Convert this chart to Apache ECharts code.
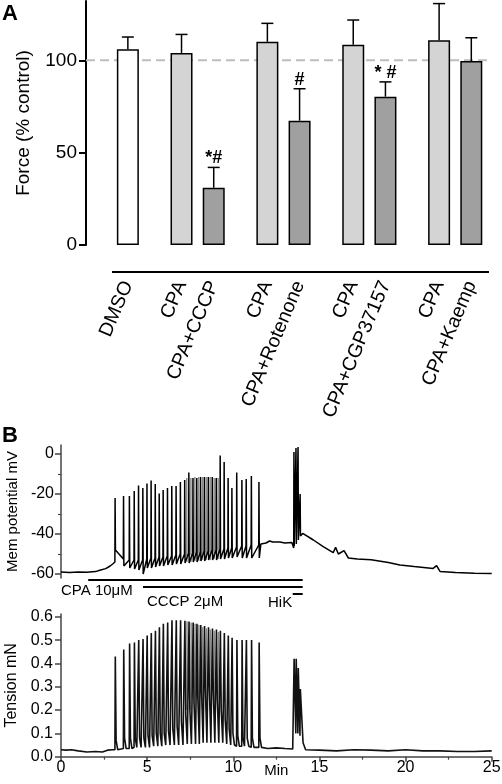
<!DOCTYPE html>
<html><head><meta charset="utf-8">
<script src="https://cdn.jsdelivr.net/npm/echarts@6/dist/echarts.min.js"></script>
<style>html,body{margin:0;padding:0;background:#fff}#c{width:502px;height:784px}</style>
</head><body><div id="c"></div>
<script>
// ---------- Panel A data ----------
const categories = ['DMSO','CPA','CPA+CCCP','CPA','CPA+Rotenone','CPA','CPA+CGP37157','CPA','CPA+Kaemp'];
const slots = [0,5,8,13,16,21,24,29,32];
const forceMean = [106,104,31,110,67.3,108.4,80.3,110.8,99.6];
const forceSEM = [6.6,10,11,10,17.3,13.4,8,19.9,12.6];
const groupType = ['dmso','cpa','drug','cpa','drug','cpa','drug','cpa','drug'];
const sigMarks = ['','','*#','','#','','* #','',''];
const forceTicks = [0,50,100];
const controlLevel = 100;

// ---------- Panel B data (time in min) ----------
const vmStartT = [0,0.5,1.0,1.5,2.0,2.3,2.6,2.85,3.0];
const vmStartV = [-59,-59.2,-59,-59.1,-58.8,-58,-57.3,-56,-55];
const spikeT = [3.14,3.63,3.97,4.25,4.50,4.75,4.99,5.23,5.47,5.70,5.93,6.18,6.43,6.68,6.93,7.18,7.42,7.66,7.88,8.10,8.32,8.55,8.78,9.01,9.24,9.47,9.70,9.92,10.20,10.50,10.75,11.05,11.49];
const vmPeak = [-22,-21,-21,-18.5,-15.8,-17,-14.7,-13.3,-15,-19.7,-18,-17,-16,-16,-14,-13,-9.3,-12,-12,-11.5,-11.5,-11.5,-11.5,-12,-0.8,-4,-12,-17,-9.3,-13,-12.5,-11,-14];
const vmPre = [-54,-52.5,-53,-53,-53,-53,-52.5,-52,-52,-51.5,-51.5,-51,-51,-50.5,-50,-50,-49.5,-49.5,-49,-49,-48.5,-48.5,-48,-48,-47.5,-47.5,-47,-47,-46.5,-46,-46,-45.5,-45.5];
const vmAHP = [-48,-56,-57,-57.5,-58,-60,-57,-57,-56.5,-56,-56,-55.5,-55.5,-55,-55,-54.5,-54.5,-54,-54,-53.5,-53.5,-53,-53,-53,-52.5,-52.5,-52,-52,-51.5,-52,-52,-52,-52];
const vmPlateauT = [11.6,11.9,12.1,12.3,12.7,13.0,13.4];
const vmPlateauV = [-45,-44.5,-43.5,-44,-44,-44.5,-44.2];
const hikT = [13.52,13.64,13.76,13.88];
const hikVmPre = [-47,-45,-44,-42];
const hikVmPeak = [1,3,3.5,-20];
const hikVmAHP = [-46,-45,-43,-41];
const vmRecoveryT = [14.03,14.65,15.22,15.8,15.94,16.1,16.43,16.68,17.2,18.0,19.0,19.67,20.5,21.6,21.8,22.0,22.9,24.0,25.0];
const vmRecoveryV = [-39.7,-43,-46.3,-49.3,-46.7,-50,-48.3,-52,-52.5,-52.9,-54.3,-55.5,-56.3,-57.2,-55.8,-58.7,-59.2,-59.6,-59.8];
// faint (grey) interleaved spikes in the dense burst
const greyT = [7.30,7.54,7.77,7.99,8.21,8.43,8.66,8.89,9.12];
const greyVmPeak = [-12,-12,-11.5,-11.5,-11.5,-11.5,-11.5,-12,-12];
const greyVmPre = [-51,-50.5,-50,-49.5,-49.5,-49,-49,-48.5,-48];
const greyVmAHP = [-54,-54,-53.5,-53.5,-53,-53,-53,-52.5,-52.5];
const greyTenPeak = [0.58,0.575,0.57,0.565,0.555,0.55,0.545,0.54,0.535];

const tenStartT = [0,0.3,0.6,1.0,1.5,2.0,2.4,2.7,3.0];
const tenStartV = [0.03,0.028,0.03,0.025,0.02,0.022,0.02,0.028,0.03];
const tenPeak = [0.43,0.46,0.485,0.49,0.50,0.505,0.52,0.53,0.54,0.555,0.57,0.575,0.585,0.585,0.585,0.583,0.58,0.575,0.57,0.565,0.56,0.555,0.55,0.545,0.54,0.53,0.52,0.51,0.50,0.50,0.50,0.50,0.49];
const tenBase = [0.03,0.035,0.035,0.04,0.04,0.04,0.04,0.045,0.045,0.045,0.05,0.05,0.05,0.05,0.05,0.055,0.055,0.055,0.055,0.06,0.06,0.06,0.06,0.06,0.06,0.055,0.05,0.05,0.045,0.045,0.045,0.04,0.04];
const tenMid = [0.07,0.08,0.08,0.08,0.08,0.08,0.09,0.09,0.1,0.1,0.1,0.11,0.12,0.13,0.15,0.18,0.2,0.23,0.26,0.28,0.3,0.3,0.28,0.25,0.2,0.16,0.12,0.1,0.09,0.08,0.08,0.08,0.08];
const tenPlateauT = [11.7,12.0,12.5,13.0,13.45];
const tenPlateauV = [0.04,0.035,0.038,0.035,0.033];
const hikTenPre = [0.035,0.1,0.1,0.09];
const hikTenPeak = [0.42,0.42,0.38,0.29];
const tenRecoveryT = [14.05,14.2,15,16,17,18,19,20,21,22,23,24,25];
const tenRecoveryV = [0.06,0.03,0.028,0.025,0.03,0.028,0.025,0.03,0.025,0.025,0.022,0.022,0.025];

const vmTicks = [-60,-40,-20,0];
const vmMinorTicks = [-50,-30,-10];
const tenTicks = [0,0.1,0.2,0.3,0.4,0.5,0.6];
const timeAxisName = 'Min';
const timeAxisNameAt = 12.5;

// ---------- build series data ----------
function pairs(ts, vs){ return ts.map((t,i)=>[t, vs[i]]); }
function vmData(){
  const d = pairs(vmStartT, vmStartV);
  spikeT.forEach((t,i)=>{ d.push([t-0.012, vmPre[i]],[t, vmPeak[i]],[t+0.02, vmAHP[i]]); });
  d.push(...pairs(vmPlateauT, vmPlateauV));
  hikT.forEach((t,i)=>{ d.push([t-0.012, hikVmPre[i]],[t, hikVmPeak[i]],[t+0.02, hikVmAHP[i]]); });
  d.push(...pairs(vmRecoveryT, vmRecoveryV));
  return d;
}
function greyVmData(){
  const d = [];
  greyT.forEach((t,i)=>{ d.push([t-0.012, greyVmPre[i]],[t, greyVmPeak[i]],[t+0.02, greyVmAHP[i]], null); });
  return d;
}
function tenData(){
  const d = pairs(tenStartT, tenStartV);
  spikeT.forEach((t,i)=>{ d.push([t-0.01, tenBase[i]],[t+0.012, tenPeak[i]],[t+0.06, tenMid[i]],[t+0.15, tenBase[i]]); });
  d.push(...pairs(tenPlateauT, tenPlateauV));
  hikT.forEach((t,i)=>{ d.push([t-0.01, hikTenPre[i]],[t+0.012, hikTenPeak[i]]); });
  d.push(...pairs(tenRecoveryT, tenRecoveryV));
  return d;
}
function greyTenData(){
  const d = [];
  greyT.forEach((t,i)=>{ d.push([t-0.01, 0.2],[t+0.012, greyTenPeak[i]],[t+0.06, 0.25], null); });
  return d;
}

const FONT = 'Liberation Sans, Arial, Helvetica, sans-serif';
const fillFor = {dmso:'#ffffff', cpa:'#d4d4d4', drug:'#a0a0a0'};
const xMinA = -3.9, xMaxA = 33.5;

const chart = echarts.init(document.getElementById('c'), null, {renderer:'canvas'});
const option = {
  animation:false,
  backgroundColor:'#fff',
  textStyle:{fontFamily:FONT, color:'#000'},
  grid:[
    {left:86, top:1, width:401.4, height:244, outerBoundsMode:'none', containLabel:false},
    {left:61, top:445, width:430.7, height:133, outerBoundsMode:'none', containLabel:false},
    {left:61, top:614, width:430.7, height:142.7, outerBoundsMode:'none', containLabel:false}
  ],
  xAxis:[
    {type:'value', gridIndex:0, min:xMinA, max:xMaxA,
      axisLine:{show:false, onZero:false}, axisTick:{show:false}, splitLine:{show:false},
      axisLabel:{customValues:slots, rotate:67, margin:37, fontSize:19.5, color:'#000', fontFamily:FONT,
        formatter:v=>{ const i = slots.indexOf(v); return i>=0 ? categories[i] : ''; }}},
    {type:'value', gridIndex:1, min:0, max:25, show:false},
    {type:'value', gridIndex:2, min:0, max:25, interval:5,
      axisLine:{onZero:false, lineStyle:{color:'#444', width:1.5}},
      axisTick:{length:5, lineStyle:{color:'#444', width:1.5}},
      minorTick:{show:true, splitNumber:2, length:3, lineStyle:{color:'#444', width:1.2}},
      splitLine:{show:false},
      axisLabel:{fontSize:16, margin:3, color:'#000', fontFamily:FONT}}
  ],
  yAxis:[
    {type:'value', gridIndex:0, min:0, max:132.1,
      axisLine:{show:true, onZero:false, lineStyle:{color:'#000', width:2}},
      axisTick:{show:true, customValues:forceTicks, length:7, lineStyle:{color:'#000', width:2}},
      axisLabel:{customValues:forceTicks, fontSize:19, margin:9, color:'#000', fontFamily:FONT},
      splitLine:{show:false},
      name:'Force (% control)', nameLocation:'middle', nameGap:53,
      nameTextStyle:{fontSize:19, color:'#000', fontFamily:FONT}},
    {type:'value', gridIndex:1, min:-62, max:4.5, position:'left',
      axisLine:{show:true, onZero:false, lineStyle:{color:'#444', width:1.5}},
      axisTick:{show:true, customValues:vmTicks, length:6, lineStyle:{color:'#444', width:1.5}},
      axisLabel:{customValues:vmTicks, fontSize:16, margin:7, color:'#000', fontFamily:FONT},
      splitLine:{show:false},
      name:'Mem potential mV', nameLocation:'middle', nameGap:39,
      nameTextStyle:{fontSize:15, color:'#000', fontFamily:FONT}},
    {type:'value', gridIndex:1, min:-62, max:4.5, position:'left', offset:0,
      axisLine:{show:false, onZero:false},
      axisTick:{show:true, customValues:vmMinorTicks, length:3, lineStyle:{color:'#444', width:1.2}},
      axisLabel:{show:false}, splitLine:{show:false}},
    {type:'value', gridIndex:2, min:0, max:0.612, position:'left',
      axisLine:{show:true, onZero:false, lineStyle:{color:'#444', width:1.5}},
      axisTick:{show:true, customValues:tenTicks, length:6, lineStyle:{color:'#444', width:1.5}},
      axisLabel:{customValues:tenTicks, fontSize:16, margin:8, color:'#000', fontFamily:FONT,
        formatter:v=>v.toFixed(1)},
      splitLine:{show:false},
      name:'Tension mN', nameLocation:'middle', nameGap:37,
      nameTextStyle:{fontSize:16, color:'#000', fontFamily:FONT}}
  ],
  series:[
    {type:'line', xAxisIndex:0, yAxisIndex:0, z:1, silent:true, symbol:'none',
      data:[[xMinA, controlLevel],[xMaxA, controlLevel]],
      lineStyle:{color:'#bdbdbd', width:2, type:[9,5]}},
    {type:'bar', xAxisIndex:0, yAxisIndex:0, z:2, barWidth:22,
      data:slots.map((s,i)=>({value:[s, forceMean[i]], itemStyle:{color:fillFor[groupType[i]]}})),
      itemStyle:{borderColor:'#000', borderWidth:1.5}},
    {type:'custom', xAxisIndex:0, yAxisIndex:0, z:3,
      data:slots.map((s,i)=>[s, forceMean[i], forceSEM[i]]),
      renderItem:(params, api)=>{
        const x = api.value(0), m = api.value(1), e = api.value(2);
        const p0 = api.coord([x, m]), p1 = api.coord([x, m+e]);
        const st = {stroke:'#000', lineWidth:1.5};
        const ch = [
          {type:'line', shape:{x1:p0[0], y1:p0[1], x2:p1[0], y2:p1[1]}, style:st},
          {type:'line', shape:{x1:p1[0]-6, y1:p1[1], x2:p1[0]+6, y2:p1[1]}, style:st}
        ];
        const s = sigMarks[params.dataIndex];
        if (s) ch.push({type:'text', x:p1[0], y:p1[1], style:{text:s, align:'center', verticalAlign:'bottom', font:'bold 18px '+FONT, fill:'#000'}});
        return {type:'group', children:ch};
      }},
    {type:'line', xAxisIndex:1, yAxisIndex:1, symbol:'none', z:3,
      data:vmData(), lineStyle:{color:'#000', width:1.5}},
    {type:'line', xAxisIndex:1, yAxisIndex:1, symbol:'none', z:2, connectNulls:false,
      data:greyVmData(), lineStyle:{color:'#8a8a8a', width:1}},
    {type:'line', xAxisIndex:2, yAxisIndex:3, symbol:'none', z:3,
      data:tenData(), lineStyle:{color:'#111', width:1.6}},
    {type:'line', xAxisIndex:2, yAxisIndex:3, symbol:'none', z:2, connectNulls:false,
      data:greyTenData(), lineStyle:{color:'#8a8a8a', width:1}}
  ]
};
chart.setOption(option);

const X = t => chart.convertToPixel({xAxisIndex:2}, t);
const txt = (x, y, s, size, bold, align) => ({type:'text', x, y, style:{text:s, font:(bold?'bold ':'')+size+'px '+FONT, fill:'#000', align:align||'left', verticalAlign:'middle'}});
const ln = (x1, y1, x2, y2, w) => ({type:'line', shape:{x1, y1, x2, y2}, style:{stroke:'#000', lineWidth:w}});
chart.setOption({graphic:[
  txt(2, 14, 'A', 22, true),
  txt(2, 436, 'B', 22, true),
  ln(112, 272, 489, 272, 2),
  ln(X(1.58), 580, X(14.03), 580, 2),
  ln(X(4.76), 587, X(14.03), 587, 2),
  ln(X(13.45), 594, X(14.03), 594, 2),
  txt(61, 591, 'CPA 10μM', 15, false),
  txt(147, 602, 'CCCP 2μM', 15, false),
  txt(268, 603, 'HiK', 15, false),
  txt(X(timeAxisNameAt), 771, timeAxisName, 15, false, 'center')
]});
</script></body></html>
